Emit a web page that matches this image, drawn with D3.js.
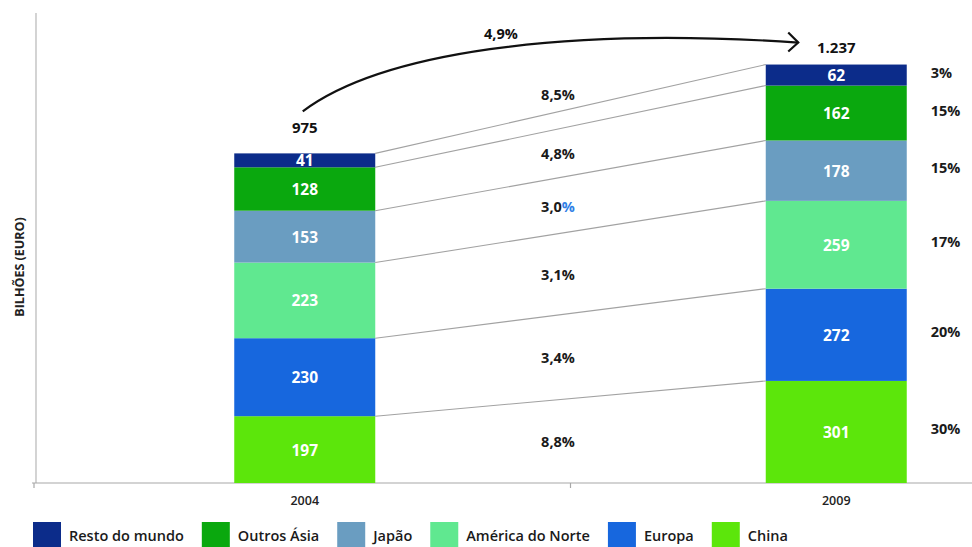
<!DOCTYPE html>
<html>
<head>
<meta charset="utf-8">
<script src="https://cdn.jsdelivr.net/npm/d3@7"></script>
<style>
  html, body { margin: 0; padding: 0; background: #fff; }
  svg { display: block; font-family: "Open Sans", "DejaVu Sans", sans-serif; }
</style>
</head>
<body>
<svg id="chart" width="972" height="547"></svg>
<script>
// Series, bottom of the stack first
const series = ["China", "Europa", "América do Norte", "Japão", "Outros Ásia", "Resto do mundo"];
const years = ["2004", "2009"];
const values2004 = [197, 230, 223, 153, 128, 41];
const values2009 = [301, 272, 259, 178, 162, 62];
const totalLabels = ["975", "1.237"];
const totalGrowth = "4,9%";
const growthLabels = ["8,8%", "3,4%", "3,1%", "3,0%", "4,8%", "8,5%"];
const share2009Labels = ["30%", "20%", "17%", "15%", "15%", "3%"];
const colors = ["#5ce60b", "#1767de", "#60e890", "#6a9dc1", "#0aa80e", "#0c2c8a"];
const yAxisTitle = "BILHÕES (EURO)";

(function draw() {
  const svg = d3.select("#chart");
  const W = 972;

  const rows = years.map((yr, i) => {
    const r = { year: yr };
    series.forEach((s, k) => { r[s] = (i === 0 ? values2004 : values2009)[k]; });
    return r;
  });
  const stacked = d3.stack().keys(series)(rows);

  const y = d3.scaleLinear().domain([0, 1386]).range([483, 13]);
  const x = d3.scaleBand().domain(years).range([39, 1102]);
  const barW = 141;
  const cx = yr => x(yr) + x.bandwidth() / 2;
  const bx = yr => cx(yr) - barW / 2;
  const color = d3.scaleOrdinal().domain(series).range(colors);

  // Axes frame
  svg.append("line").attr("x1", 36).attr("x2", 36).attr("y1", y.range()[1]).attr("y2", y(0))
    .attr("stroke", "#c9c9c9").attr("stroke-width", 1.6);
  svg.append("line").attr("x1", 32).attr("x2", W).attr("y1", y(0)).attr("y2", y(0))
    .attr("stroke", "#a8a8a8").attr("stroke-width", 1.2);
  [x.range()[0] - 5, x("2009")].forEach(t => {
    svg.append("line").attr("x1", t).attr("x2", t).attr("y1", y(0)).attr("y2", y(0) + 5)
      .attr("stroke", "#a8a8a8").attr("stroke-width", 1.2);
  });

  const xAxis = svg.append("g").attr("transform", `translate(0,${y(0)})`)
    .call(d3.axisBottom(x).tickSize(0).tickPadding(13));
  xAxis.select(".domain").remove();
  xAxis.selectAll("text").attr("font-size", 12.5).attr("font-weight", 600)
    .attr("fill", "#222").attr("font-family", "'Open Sans', sans-serif");

  // Y axis title
  svg.append("text")
    .attr("transform", `translate(19,${(211 + 323) / 2}) rotate(-90)`)
    .attr("text-anchor", "middle").attr("dominant-baseline", "central")
    .attr("font-size", 12.5).attr("font-weight", 700).attr("fill", "#222")
    .text(yAxisTitle);

  // Connector lines between the segment tops of the two bars
  stacked.forEach(layer => {
    const a = layer[0], b = layer[1];
    svg.append("line")
      .attr("x1", bx("2004") + barW).attr("y1", y(a[1]))
      .attr("x2", bx("2009")).attr("y2", y(b[1]))
      .attr("stroke", "#a2a2a2").attr("stroke-width", 1.1);
  });

  // Stacked bars
  const layers = svg.append("g").selectAll("g").data(stacked).join("g")
    .attr("fill", d => color(d.key));
  layers.selectAll("rect").data(d => d).join("rect")
    .attr("x", d => bx(d.data.year))
    .attr("y", d => y(d[1]))
    .attr("width", barW)
    .attr("height", d => y(d[0]) - y(d[1]));

  // Values inside the segments
  layers.selectAll("text").data(d => d.map(v => ({ v, key: d.key }))).join("text")
    .attr("x", d => cx(d.v.data.year))
    .attr("y", d => (y(d.v[0]) + y(d.v[1])) / 2)
    .attr("text-anchor", "middle").attr("dominant-baseline", "central")
    .attr("font-size", 15.5).attr("font-weight", 700).attr("fill", "#fff")
    .text(d => d.v.data[d.key]);

  // Growth rate labels in the band between the bars
  const lx = 558;
  const t = (lx - (bx("2004") + barW)) / (bx("2009") - (bx("2004") + barW));
  stacked.forEach((layer, i) => {
    const a = layer[0], b = layer[1];
    const mid0 = (y(a[0]) + y(a[1])) / 2, mid1 = (y(b[0]) + y(b[1])) / 2;
    let ly = mid0 + t * (mid1 - mid0);
    if (y(a[0]) - y(a[1]) < 20) {
      const upper = y(a[1]) + t * (y(b[1]) - y(a[1]));
      ly = upper - 17;
    }
    const label = growthLabels[i];
    const txt = svg.append("text").attr("x", lx).attr("y", ly)
      .attr("text-anchor", "middle").attr("dominant-baseline", "central")
      .attr("font-size", 14.5).attr("font-weight", 700).attr("fill", "#1a1a1a");
    if (label === "3,0%") {
      txt.append("tspan").text(label.slice(0, -1));
      txt.append("tspan").attr("fill", "#2f7fe6").text("%");
    } else {
      txt.text(label);
    }
  });

  // Share labels on the right of the 2009 bar
  stacked.forEach((layer, i) => {
    const b = layer[1];
    svg.append("text").attr("x", bx("2009") + barW + 24)
      .attr("y", (y(b[0]) + y(b[1])) / 2 - 3)
      .attr("dominant-baseline", "central")
      .attr("font-size", 14.5).attr("font-weight", 700).attr("fill", "#1a1a1a")
      .text(share2009Labels[i]);
  });

  // Totals above the bars
  const topLayer = stacked[stacked.length - 1];
  const totalOffsets = [20, 12];
  const totalPos = years.map((yr, i) => ({ x: cx(yr), y: y(topLayer[i][1]) - totalOffsets[i] }));
  years.forEach((yr, i) => {
    svg.append("text").attr("x", totalPos[i].x).attr("y", totalPos[i].y)
      .attr("text-anchor", "middle")
      .attr("font-size", 15).attr("font-weight", 700).attr("fill", "#111")
      .text(totalLabels[i]);
  });

  // Arrow from the 2004 total to the 2009 total
  const s = { x: totalPos[0].x - 2, y: totalPos[0].y - 22 };
  const e = { x: totalPos[1].x - 38, y: totalPos[1].y - 10 };
  const p = d3.path();
  p.moveTo(s.x, s.y);
  p.bezierCurveTo(s.x + 77, s.y - 58, s.x + 257, s.y - 85, e.x, e.y);
  svg.append("path").attr("d", p.toString()).attr("fill", "none")
    .attr("stroke", "#111").attr("stroke-width", 2.2);
  svg.append("path")
    .attr("d", `M${e.x - 10},${e.y - 10}L${e.x},${e.y}L${e.x - 10},${e.y + 9}`)
    .attr("fill", "none").attr("stroke", "#111").attr("stroke-width", 2.2)
    .attr("stroke-linejoin", "miter");
  svg.append("text").attr("x", s.x + 0.4 * (e.x - s.x)).attr("y", e.y - 9)
    .attr("text-anchor", "middle").attr("dominant-baseline", "central")
    .attr("font-size", 14.5).attr("font-weight", 700).attr("fill", "#111")
    .text(totalGrowth);

  // Legend (top of the stack first)
  const legend = svg.append("g");
  let legendX = 33;
  series.slice().reverse().forEach(name => {
    legend.append("rect").attr("x", legendX).attr("y", 522).attr("width", 28).attr("height", 28)
      .attr("fill", color(name));
    const tx = legend.append("text").attr("x", legendX + 36).attr("y", 541)
      .attr("font-size", 14.5).attr("font-weight", 600).attr("fill", "#1a1a1a")
      .text(name);
    legendX += 36 + tx.node().getComputedTextLength() + 18;
  });
})();
</script>
</body>
</html>
